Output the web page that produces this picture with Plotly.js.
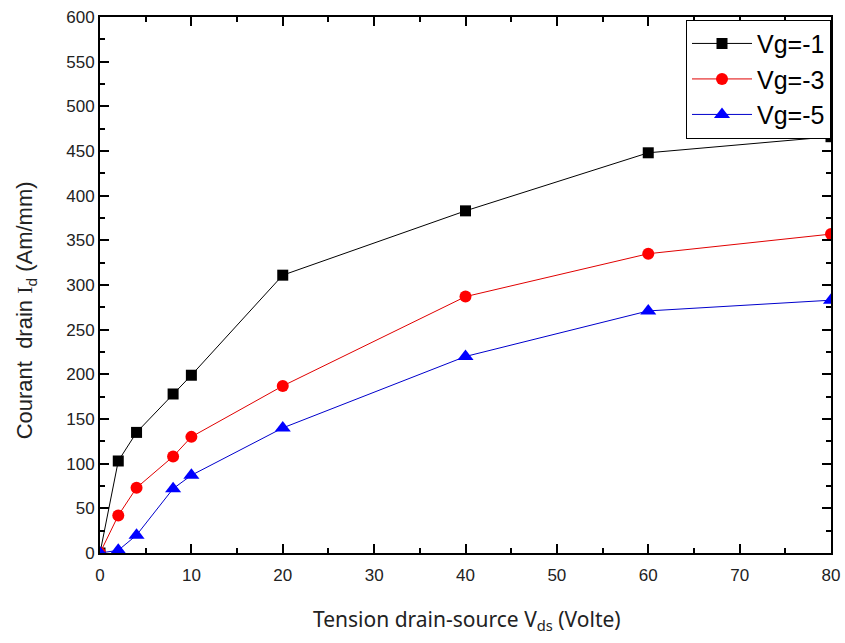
<!DOCTYPE html>
<html><head><meta charset="utf-8">
<script src="https://cdn.plot.ly/plotly-3.0.1.min.js"></script>
<style>html,body{margin:0;padding:0;background:#fff;}#chart{width:845px;height:643px;}</style>
</head><body><div id="chart"></div>
<script>
const vds = [0, 2, 4, 8, 10, 20, 40, 60, 80];
const id_vg1 = [0, 103, 135, 178, 199, 311, 383, 448, 466];
const id_vg3 = [0, 42, 73, 108, 130, 187, 287, 335, 357];
const id_vg5 = [0, 3, 20, 72, 87, 140, 220, 271, 283];
const names = ["Vg=-1", "Vg=-3", "Vg=-5"];
const xTitle = 'Tension drain-source V<sub>ds</sub> (Volte)';
const yTitle = 'Courant  drain <span style="font-family:Liberation Serif">I</span><sub>d</sub> (Am/mm)';

const traces = [
  {x: vds, y: id_vg1, name: names[0], mode: 'lines+markers', line: {color: '#000000', width: 1},
   marker: {symbol: 'square', size: 11, color: '#000000'}},
  {x: vds, y: id_vg3, name: names[1], mode: 'lines+markers', line: {color: '#e00000', width: 1},
   marker: {symbol: 'circle', size: 12, color: '#ff0000'}},
  {x: vds, y: id_vg5, name: names[2], mode: 'lines+markers', line: {color: '#0000cc', width: 1},
   marker: {symbol: 'triangle-up', size: 14, color: '#0000ff'}}
];
const tickfont = {family: 'Liberation Sans, Arial, sans-serif', size: 17, color: '#222'};
const layout = {
  width: 845, height: 643,
  margin: {l: 100, r: 14, t: 17, b: 90},
  paper_bgcolor: '#fff', plot_bgcolor: '#fff',
  showlegend: true,
  legend: {x: 1, xanchor: 'right', y: 0.995, yanchor: 'top', bgcolor: '#fff',
    bordercolor: '#000', borderwidth: 1, font: {family: 'Liberation Sans, Arial, sans-serif', size: 25, color: '#000'},
    tracegroupgap: 0, itemwidth: 60},
  xaxis: {range: [0, 80], dtick: 10, ticks: 'inside', ticklen: 9, tickwidth: 2, tickcolor: '#000',
    minor: {dtick: 5, ticks: 'inside', ticklen: 5, tickwidth: 2, tickcolor: '#000'},
    showline: true, linecolor: '#000', linewidth: 2, mirror: 'allticks', showgrid: false, zeroline: false,
    tickfont: tickfont, ticklabelstandoff: 6},
  yaxis: {range: [0, 600], dtick: 50, ticks: 'inside', ticklen: 9, tickwidth: 2, tickcolor: '#000',
    minor: {dtick: 25, ticks: 'inside', ticklen: 5, tickwidth: 2, tickcolor: '#000'},
    showline: true, linecolor: '#000', linewidth: 2, mirror: 'allticks', showgrid: false, zeroline: false,
    tickfont: tickfont},
  annotations: [
    {text: xTitle, xref: 'paper', yref: 'paper', x: 0.502, y: -0.093, xanchor: 'center', yanchor: 'top',
     showarrow: false, font: {family: 'Noto Sans, sans-serif', size: 21, color: '#222'}},
    {text: yTitle, xref: 'paper', yref: 'paper', x: -0.101, y: 0.453, xanchor: 'center', yanchor: 'middle',
     textangle: -90, showarrow: false, font: {family: 'Liberation Sans, Arial, sans-serif', size: 22, color: '#222'}}
  ]
};
Plotly.newPlot('chart', traces, layout, {displayModeBar: false, staticPlot: true});
</script></body></html>
